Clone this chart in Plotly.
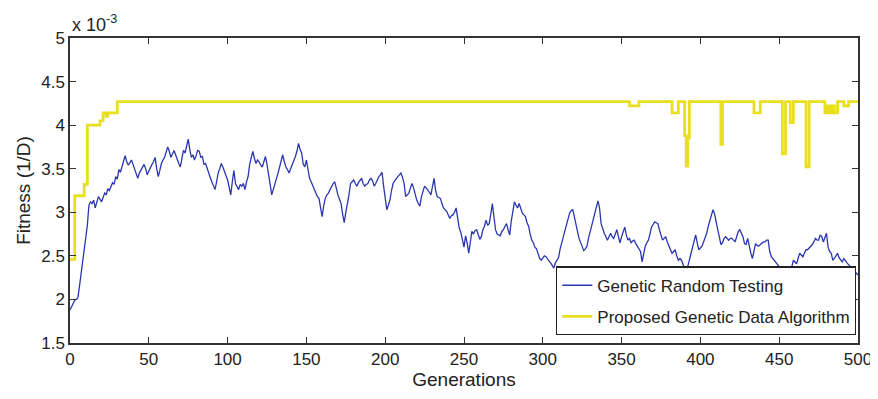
import plotly.graph_objects as go

# Blue series: Genetic Random Testing, fitness (x10^-3) per generation 0..500
gens_blue = list(range(0, 501))
fit_blue = [
    1.88,1.92,1.97,1.99,2.00,2.02,2.15,2.30,2.45,2.55,
    2.68,2.85,3.08,3.12,3.10,3.14,3.05,3.12,3.18,3.15,
    3.12,3.17,3.22,3.20,3.27,3.25,3.30,3.34,3.32,3.41,
    3.38,3.49,3.46,3.52,3.58,3.65,3.58,3.54,3.57,3.60,
    3.55,3.49,3.44,3.39,3.45,3.49,3.52,3.55,3.50,3.43,
    3.47,3.52,3.55,3.58,3.63,3.50,3.41,3.48,3.56,3.60,
    3.63,3.69,3.75,3.70,3.63,3.67,3.71,3.66,3.60,3.56,
    3.52,3.60,3.71,3.68,3.76,3.84,3.72,3.63,3.66,3.60,
    3.65,3.71,3.70,3.63,3.64,3.55,3.56,3.50,3.45,3.40,
    3.35,3.30,3.26,3.35,3.45,3.50,3.56,3.52,3.48,3.42,
    3.37,3.28,3.20,3.35,3.48,3.33,3.30,3.26,3.32,3.30,
    3.33,3.26,3.35,3.41,3.55,3.62,3.70,3.62,3.56,3.60,
    3.58,3.54,3.52,3.58,3.64,3.55,3.45,3.32,3.20,3.26,
    3.30,3.38,3.45,3.52,3.60,3.66,3.58,3.52,3.49,3.45,
    3.50,3.54,3.60,3.64,3.70,3.79,3.72,3.68,3.55,3.52,
    3.60,3.50,3.39,3.35,3.30,3.25,3.22,3.18,3.16,3.05,
    2.95,3.08,3.16,3.20,3.22,3.26,3.30,3.33,3.35,3.26,
    3.20,3.15,3.10,2.98,2.88,3.00,3.09,3.20,3.33,3.35,
    3.37,3.33,3.30,3.34,3.36,3.39,3.33,3.30,3.32,3.33,
    3.37,3.39,3.36,3.30,3.33,3.38,3.41,3.43,3.46,3.30,
    3.18,3.03,3.08,3.14,3.25,3.33,3.36,3.39,3.41,3.43,
    3.45,3.40,3.33,3.18,3.20,3.22,3.28,3.33,3.28,3.20,
    3.14,3.10,3.07,3.18,3.25,3.30,3.28,3.26,3.23,3.20,
    3.30,3.39,3.25,3.18,3.17,3.16,3.10,3.05,3.03,3.01,
    2.97,2.93,2.96,2.97,3.00,3.05,2.93,2.82,2.77,2.68,
    2.60,2.73,2.65,2.53,2.66,2.78,2.75,2.79,2.80,2.74,
    2.69,2.72,2.80,2.84,2.91,2.85,2.87,2.98,3.10,2.95,
    2.80,2.75,2.74,2.73,2.78,2.80,2.84,2.87,2.80,2.74,
    2.90,3.02,3.12,3.08,3.05,3.10,3.03,2.99,2.97,2.95,
    2.88,2.84,2.75,2.68,2.65,2.60,2.58,2.52,2.47,2.45,
    2.48,2.50,2.49,2.46,2.44,2.42,2.38,2.36,2.42,2.45,
    2.48,2.58,2.65,2.72,2.80,2.87,2.95,2.99,3.02,3.03,
    2.95,2.84,2.78,2.70,2.65,2.60,2.56,2.58,2.61,2.70,
    2.78,2.85,2.92,2.99,3.06,3.13,3.05,2.87,2.80,2.76,
    2.72,2.68,2.72,2.76,2.72,2.70,2.75,2.80,2.72,2.65,
    2.72,2.78,2.83,2.74,2.68,2.70,2.65,2.67,2.68,2.64,
    2.61,2.58,2.55,2.43,2.52,2.61,2.65,2.68,2.75,2.83,
    2.86,2.89,2.88,2.87,2.80,2.74,2.68,2.70,2.72,2.66,
    2.61,2.57,2.53,2.55,2.57,2.50,2.45,2.47,2.45,2.40,
    2.35,2.30,2.38,2.45,2.52,2.61,2.68,2.74,2.65,2.57,
    2.59,2.61,2.66,2.70,2.76,2.84,2.91,2.97,3.03,2.98,
    2.87,2.80,2.72,2.63,2.65,2.70,2.72,2.70,2.68,2.70,
    2.70,2.68,2.66,2.72,2.78,2.80,2.76,2.72,2.64,2.63,
    2.70,2.60,2.53,2.47,2.58,2.64,2.62,2.61,2.63,2.65,
    2.66,2.66,2.68,2.68,2.55,2.49,2.47,2.45,2.42,2.40,
    2.37,2.33,2.30,2.28,2.27,2.29,2.26,2.30,2.38,2.45,
    2.43,2.41,2.47,2.53,2.51,2.49,2.53,2.57,2.57,2.59,
    2.60,2.63,2.66,2.70,2.68,2.68,2.74,2.72,2.66,2.70,
    2.76,2.60,2.55,2.53,2.45,2.47,2.50,2.53,2.48,2.45,
    2.43,2.47,2.44,2.42,2.40,2.38,2.33,2.28,2.32,2.30,
    2.28,
]

# Yellow series: Proposed Genetic Data Algorithm (step changes)
gens_yellow = [0, 3, 9, 11, 19, 21, 23, 24, 30, 355, 361, 382, 386, 390, 391,
               392, 393, 413, 414, 434, 438, 452, 454, 457, 459, 467, 469, 479,
               480, 481, 482, 483, 484, 485, 487, 491, 494, 500]
fit_yellow = [2.46, 3.19, 3.32, 4.00, 4.05, 4.14, 4.10, 4.14, 4.27, 4.22, 4.27,
              4.14, 4.27, 3.88, 3.53, 3.85, 4.27, 3.78, 4.27, 4.14, 4.27, 3.67,
              4.27, 4.03, 4.27, 3.52, 4.27, 4.14, 4.22, 4.14, 4.22, 4.14, 4.22,
              4.14, 4.27, 4.22, 4.27, 4.27]

x_ticks = [0, 50, 100, 150, 200, 250, 300, 350, 400, 450, 500]
y_ticks = [1.5, 2, 2.5, 3, 3.5, 4, 4.5, 5]
y_tick_labels = ["1.5", "2", "2.5", "3", "3.5", "4", "4.5", "5"]

FONT = "Liberation Sans, Arial, sans-serif"
TXT = "#222222"

fig = go.Figure()
fig.add_trace(go.Scatter(
    x=gens_blue, y=fit_blue, mode="lines", name="Genetic Random Testing",
    line=dict(color="#2a36b0", width=1.3), legendgroup="a",
))
fig.add_trace(go.Scatter(
    x=gens_yellow, y=fit_yellow, mode="lines", name="Proposed Genetic Data Algorithm",
    line=dict(color="#e9df1e", width=2.8, shape="hv"), legendgroup="b",
))

axis_common = dict(
    showline=True, linecolor="#333333", linewidth=1.5, mirror="ticks",
    ticks="inside", ticklen=6, tickwidth=1.3, tickcolor="#333333",
    showgrid=False, zeroline=False, automargin=False,
    tickfont=dict(family=FONT, size=17, color=TXT),
)

fig.update_xaxes(
    range=[0, 500], tickvals=x_ticks,
    title=dict(text="Generations", font=dict(family=FONT, size=19, color=TXT), standoff=5),
    **axis_common,
)
fig.update_yaxes(
    range=[1.5, 5], tickvals=y_ticks, ticktext=y_tick_labels,
    title=dict(text="Fitness (1/D)", font=dict(family=FONT, size=19, color=TXT), standoff=6),
    **axis_common,
)

fig.add_annotation(
    xref="paper", yref="paper", x=0.0, y=1.0, xanchor="left", yanchor="bottom",
    text="x 10<sup>-3</sup>", showarrow=False, yshift=1,
    font=dict(family=FONT, size=18, color=TXT),
)

# page body has an 8px default margin, so the figure is sized to fit within it
fig.update_layout(
    width=870, height=391,
    margin=dict(l=62, r=20, t=30, b=56),
    paper_bgcolor="white", plot_bgcolor="white",
    showlegend=True,
    legend=dict(
        x=0.9975, y=0.025, xanchor="right", yanchor="bottom",
        bgcolor="white", bordercolor="#222222", borderwidth=1.3,
        font=dict(family=FONT, size=17, color=TXT),
        tracegroupgap=6,
    ),
)

fig.write_html("out.html")
